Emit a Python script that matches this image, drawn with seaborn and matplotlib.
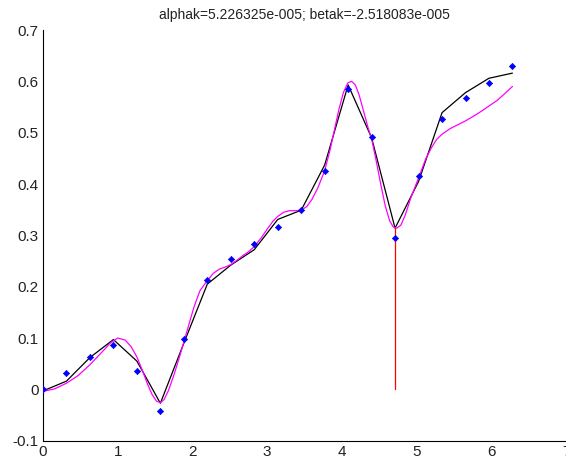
import numpy as np
import matplotlib
matplotlib.use("Agg")
import matplotlib.pyplot as plt
import seaborn as sns

# ---- data ----
pts_x = [0.0, 0.314, 0.628, 0.942, 1.257, 1.571, 1.885, 2.199, 2.513, 2.827,
         3.142, 3.456, 3.770, 4.084, 4.398, 4.712, 5.027, 5.341, 5.655, 5.969, 6.283]
pts_y = [0.000, 0.032, 0.064, 0.086, 0.036, -0.042, 0.098, 0.213, 0.253, 0.283,
         0.316, 0.349, 0.426, 0.586, 0.492, 0.295, 0.415, 0.527, 0.567, 0.597, 0.630]
black_y = [-0.003, 0.016, 0.062, 0.097, 0.055, -0.027, 0.090, 0.205, 0.242, 0.272,
           0.331, 0.349, 0.437, 0.593, 0.490, 0.314, 0.405, 0.539, 0.578, 0.606, 0.616]
mag_x = [0.0, 0.157, 0.314, 0.471, 0.628, 0.785, 0.900, 1.000, 1.100, 1.180, 1.257,
         1.330, 1.400, 1.460, 1.520, 1.571, 1.620, 1.680, 1.750, 1.820, 1.885, 1.950,
         2.020, 2.100, 2.199, 2.280, 2.356, 2.435, 2.513, 2.600, 2.670, 2.750, 2.827,
         2.920, 3.000, 3.080, 3.142, 3.220, 3.300, 3.380, 3.456, 3.530, 3.600, 3.680,
         3.770, 3.840, 3.900, 3.960, 4.020, 4.080, 4.130, 4.180, 4.230, 4.300, 4.350,
         4.398, 4.460, 4.520, 4.580, 4.640, 4.690, 4.735, 4.790, 4.850, 4.920, 5.027,
         5.120, 5.200, 5.270, 5.341, 5.450, 5.560, 5.655, 5.760, 5.870, 5.969, 6.080,
         6.180, 6.283]
mag_y = [-0.004, 0.001, 0.012, 0.027, 0.048, 0.072, 0.090, 0.100, 0.096, 0.083, 0.063,
         0.037, 0.010, -0.010, -0.023, -0.026, -0.020, -0.002, 0.027, 0.060, 0.092, 0.125,
         0.160, 0.192, 0.212, 0.226, 0.234, 0.238, 0.243, 0.252, 0.260, 0.268, 0.278,
         0.295, 0.312, 0.328, 0.337, 0.345, 0.348, 0.348, 0.349, 0.356, 0.370, 0.393,
         0.426, 0.465, 0.505, 0.545, 0.578, 0.597, 0.600, 0.593, 0.574, 0.537, 0.510,
         0.488, 0.445, 0.400, 0.358, 0.328, 0.316, 0.314, 0.320, 0.340, 0.372, 0.412,
         0.448, 0.471, 0.487, 0.497, 0.508, 0.516, 0.523, 0.532, 0.542, 0.552, 0.563,
         0.576, 0.590]
red_x = [4.712, 4.712]
red_y = [0.0, 0.314]
x_ticks = [0, 1, 2, 3, 4, 5, 6, 7]
y_ticks = [-0.1, 0, 0.1, 0.2, 0.3, 0.4, 0.5, 0.6, 0.7]
title = "alphak=5.226325e-005; betak=-2.518083e-005"

sns.set_style("white")
plt.rcParams['font.family'] = ['Liberation Sans', 'DejaVu Sans']

fig = plt.figure(figsize=(5.66, 4.67), dpi=100)
ax = fig.add_axes([43/566, 26.3/467, (566-43)/566, (437-26.3)/467])

sns.lineplot(x=pts_x, y=black_y, ax=ax, color='black', linewidth=0.9,
             estimator=None, sort=False)
sns.lineplot(x=mag_x, y=mag_y, ax=ax, color='#ff00ff', linewidth=0.9,
             estimator=None, sort=False)
ax.plot(red_x, red_y, color='red', linewidth=0.9)
sns.scatterplot(x=pts_x, y=pts_y, ax=ax, color='blue', marker='D', s=10,
                edgecolor='blue', linewidth=0.5, zorder=5)

ax.set_xlim(0, 7)
ax.set_ylim(-0.1, 0.7)
ax.set_xticks(x_ticks)
ax.set_xticklabels([str(t) for t in x_ticks])
ax.set_yticks(y_ticks)
ax.set_yticklabels(['-0.1', '0', '0.1', '0.2', '0.3', '0.4', '0.5', '0.6', '0.7'])
ax.tick_params(direction='in', length=5, width=0.8, labelsize=11, colors='#222222',
               pad=3)
for s in ['top', 'right']:
    ax.spines[s].set_visible(False)
for s in ['left', 'bottom']:
    ax.spines[s].set_color('black')
    ax.spines[s].set_linewidth(0.8)
ax.set_title(title, fontsize=10, pad=8, color='#222222')

fig.savefig("out.png", dpi=100)
